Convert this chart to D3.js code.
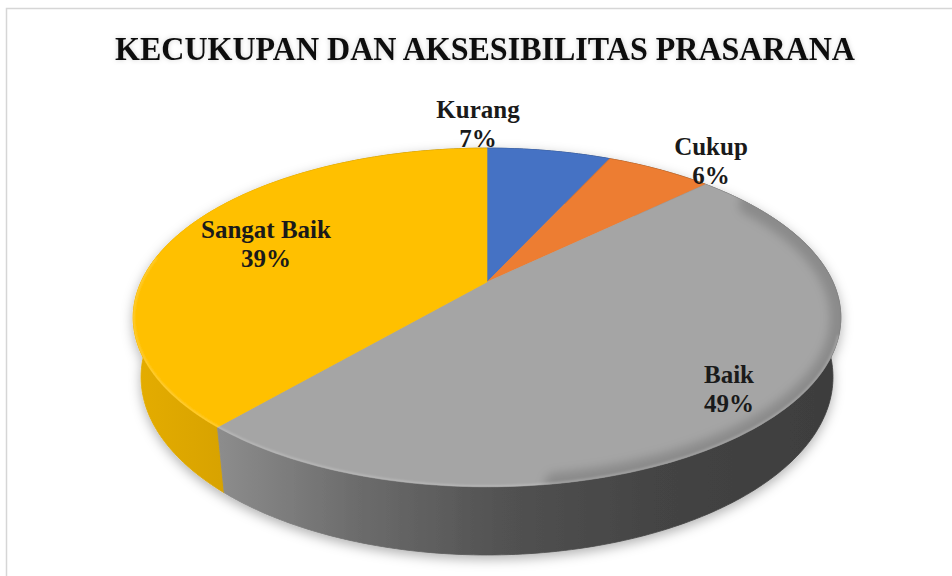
<!DOCTYPE html>
<html>
<head>
<meta charset="utf-8">
<script src="https://cdn.jsdelivr.net/npm/d3@7"></script>
<style>
  html, body { margin: 0; padding: 0; background: #ffffff; }
  svg { display: block; }
</style>
</head>
<body>
<svg id="chart" width="952" height="576"></svg>
<script>
// ---- data ----
const title = "KECUKUPAN DAN AKSESIBILITAS PRASARANA";
const categories = ["Kurang", "Cukup", "Baik", "Sangat Baik"];
const values = [7, 6, 49, 39];
const percentLabels = ["7%", "6%", "49%", "39%"];
const colors = ["#4472C4", "#ED7D31", "#A5A5A5", "#FFC000"];

// ---- layout ----
const W = 952, H = 576;
const svg = d3.select("#chart");
const defs = svg.append("defs");

// frame
svg.append("rect").attr("x", 6.5).attr("y", 8.5).attr("width", W).attr("height", H)
  .attr("fill", "#ffffff").attr("stroke", "#d6d6d6").attr("stroke-width", 1.5);

// title
const tf = defs.append("filter").attr("id", "titleGlow").attr("x", "-5%").attr("y", "-40%").attr("width", "110%").attr("height", "180%");
tf.append("feDropShadow").attr("dx", 0).attr("dy", 0).attr("stdDeviation", 2.5).attr("flood-color", "#000").attr("flood-opacity", 0.18);
svg.append("text")
  .attr("x", 485).attr("y", 60)
  .attr("text-anchor", "middle")
  .attr("font-family", "'Liberation Serif', 'Times New Roman', serif")
  .attr("font-weight", "bold")
  .attr("font-size", 34)
  .attr("textLength", 740)
  .attr("lengthAdjust", "spacingAndGlyphs")
  .attr("fill", "#111")
  .attr("filter", "url(#titleGlow)")
  .text(title);

// perspective projection of a tilted disc
const cam = { cx: 487, cy: 282, F: 1460, L: 4.22, s: 0.468, c: 0.884, h: 0.1956 };
function proj(theta, r, z) {
  const X = r * Math.sin(theta), Yb = r * Math.cos(theta);
  const depth = cam.L + Yb * cam.c - z * cam.s;
  return [cam.cx + cam.F * X / depth, cam.cy - cam.F * (Yb * cam.s + z * cam.c) / depth];
}
function arcPts(a0, a1, z) {
  const n = Math.max(2, Math.ceil(Math.abs(a1 - a0) * 60));
  const pts = [];
  for (let i = 0; i <= n; i++) pts.push(proj(a0 + (a1 - a0) * i / n, 1, z));
  return pts;
}
const line = d3.line();

const pie = d3.pie().sort(null).value(d => d);
const arcs = pie(values).map((a, i) => ({ ...a, i }));

// side gradients
const xLeft = 130, xRight = 845;
const sideStops = [[0, 0.3], [0.126, 0.46], [0.31, 1.15], [0.52, 1.95], [0.73, 2.5], [1, 2.8]];
arcs.forEach(a => {
  const g = defs.append("linearGradient").attr("id", "side" + a.i)
    .attr("gradientUnits", "userSpaceOnUse")
    .attr("x1", xLeft).attr("x2", xRight).attr("y1", 0).attr("y2", 0);
  sideStops.forEach(([o, k]) => g.append("stop").attr("offset", o)
    .attr("stop-color", d3.color(colors[a.i]).darker(k).formatHex()));
});

// shadow
const sf = defs.append("filter").attr("id", "pieShadow").attr("x", "-10%").attr("y", "-10%").attr("width", "120%").attr("height", "130%");
sf.append("feDropShadow").attr("dx", 0).attr("dy", 4).attr("stdDeviation", 6).attr("flood-color", "#000").attr("flood-opacity", 0.3);

const pieG = svg.append("g").attr("filter", "url(#pieShadow)");

// sides: sort back to front by mid-angle depth
const sides = arcs.slice().sort((a, b) => Math.cos((b.startAngle + b.endAngle) / 2) - Math.cos((a.startAngle + a.endAngle) / 2));
sides.forEach(a => {
  const top = arcPts(a.startAngle, a.endAngle, 0);
  const bot = arcPts(a.startAngle, a.endAngle, -cam.h).reverse();
  pieG.append("path").attr("d", line(top.concat(bot)) + "Z")
    .attr("fill", `url(#side${a.i})`)
    .attr("stroke", `url(#side${a.i})`).attr("stroke-width", 0.8);
});

defs.append("filter").attr("id", "soft").attr("x", "-20%").attr("y", "-20%").attr("width", "140%").attr("height", "140%")
  .append("feGaussianBlur").attr("stdDeviation", 5);
defs.append("filter").attr("id", "softSmall").append("feGaussianBlur").attr("stdDeviation", 1.2);

// top faces
const apex = proj(0, 0, 0);
arcs.forEach(a => {
  const pts = [apex].concat(arcPts(a.startAngle, a.endAngle, 0));
  pieG.append("path").attr("d", line(pts) + "Z")
    .attr("fill", colors[a.i]).attr("stroke", colors[a.i]).attr("stroke-width", 0.6);
});

// bevel shading on the top face near the rim
const topClip = defs.append("clipPath").attr("id", "topClip");
topClip.append("path").attr("d", line(arcPts(0, 2 * Math.PI, 0)) + "Z");
const bevelG = pieG.append("g").attr("clip-path", "url(#topClip)");
bevelG.append("path").attr("d", line(arcPts(Math.PI * 0.32, Math.PI * 0.95, 0)))
  .attr("fill", "none").attr("stroke", "#000").attr("stroke-opacity", 0.16)
  .attr("stroke-width", 22).attr("stroke-linecap", "round").attr("filter", "url(#soft)");
bevelG.append("path").attr("d", line(arcPts(Math.PI * 0.6, Math.PI * 1.55, 0)))
  .attr("fill", "none").attr("stroke", "#fff").attr("stroke-opacity", 0.22)
  .attr("stroke-width", 3).attr("filter", "url(#softSmall)");

// labels
const labelLayout = {
  "Kurang": [478, 118],
  "Cukup": [711, 155],
  "Baik": [729, 383],
  "Sangat Baik": [266, 238]
};
arcs.forEach(a => {
  const [x, y] = labelLayout[categories[a.i]];
  const t = svg.append("text")
    .attr("text-anchor", "middle")
    .attr("font-family", "'Liberation Serif', 'Times New Roman', serif")
    .attr("font-weight", "bold")
    .attr("font-size", 25)
    .attr("fill", "#1a1a1a");
  t.append("tspan").attr("x", x).attr("y", y).text(categories[a.i]);
  t.append("tspan").attr("x", x).attr("y", y + 29).text(percentLabels[a.i]);
});
</script>
</body>
</html>
